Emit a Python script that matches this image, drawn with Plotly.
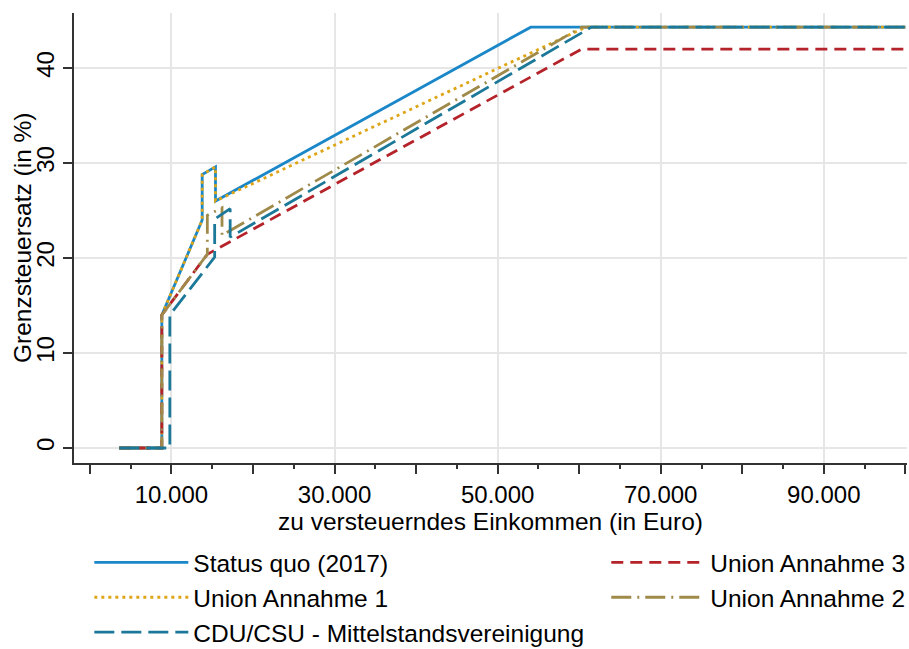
import plotly.graph_objects as go

# ---- data (vertices) ----
sq_x = [3600, 8820, 8820, 13770, 13770, 15400, 15400, 54060, 100000]
sq_y = [0, 0, 14, 24, 28.8, 29.6, 26.0, 44.31, 44.31]

u1_x = [3600, 8820, 8820, 13770, 13770, 15400, 15400, 60800, 100000]
u1_y = [0, 0, 14, 24, 28.8, 29.6, 26.0, 44.31, 44.31]

u3_x = [3600, 8820, 8820, 14400, 60300, 100000]
u3_y = [0, 0, 14, 20.4, 42, 42]

u2_x = [3600, 8820, 8820, 14400, 14400, 16200, 16200, 60300, 100000]
u2_y = [0, 0, 14, 20.4, 24.5, 25.3, 22.4, 44.31, 44.31]

mit_x = [3600, 9800, 9800, 15300, 15300, 17200, 17200, 61500, 100000]
mit_y = [0, 0, 14, 20.1, 24.1, 25.2, 22.2, 44.31, 44.31]

x_tickvals = [10000, 30000, 50000, 70000, 90000]
x_ticktext = ["10.000", "30.000", "50.000", "70.000", "90.000"]
y_tickvals = [0, 10, 20, 30, 40]

FONT = "Arial, Liberation Sans, sans-serif"
LW = 2.8

fig = go.Figure()
# (name, x, y, colour, dash, legend column, rank)
series = [
    ("Status quo (2017)", sq_x, sq_y, "#1a87c8", "solid", "legend", 1),
    ("Union Annahme 1", u1_x, u1_y, "#dea516", "3px,4px", "legend", 2),
    ("Union Annahme 3", u3_x, u3_y, "#b5232a", "12px,7px", "legend2", 1),
    ("Union Annahme 2", u2_x, u2_y, "#9f8a4a", "20px,6px,2px,6px", "legend2", 2),
    ("CDU/CSU - Mittelstandsvereinigung", mit_x, mit_y, "#1b7899", "20px,7px", "legend", 3),
]
for name, xs, ys, col, dash, leg, rank in series:
    fig.add_trace(go.Scatter(
        x=xs, y=ys, mode="lines", name=name, legend=leg, legendrank=rank,
        line=dict(color=col, width=LW, dash=dash),
    ))

# invisible helper trace for the overlay axis carrying the short ticks
fig.add_trace(go.Scatter(x=[None], y=[None], xaxis="x2", showlegend=False,
                         hoverinfo="skip"))

XR = [-1950, 100200]
LEG_Y = -0.171
legend_common = dict(
    orientation="v", yanchor="top", xanchor="left", itemwidth=94,
    font=dict(size=24.5), bgcolor="rgba(0,0,0,0)", traceorder="normal",
)
fig.update_layout(
    width=909, height=649,
    margin=dict(l=74, r=2, t=13, b=186, autoexpand=False),
    paper_bgcolor="white", plot_bgcolor="white",
    font=dict(family=FONT, size=24, color="#000000"),
    xaxis=dict(
        range=XR, tickvals=x_tickvals, ticktext=x_ticktext, automargin=False,
        ticks="outside", ticklen=9, tickwidth=1.5, tickcolor="#333333",
        showline=True, linecolor="#333333", linewidth=1.5,
        showgrid=True, gridcolor="#e6e6e6", gridwidth=1.5,
        zeroline=False,
        minor=dict(tickvals=[0, 20000, 40000, 60000, 80000, 100000],
                   ticks="outside", ticklen=9, tickwidth=1.5,
                   tickcolor="#333333", showgrid=False),
        tickfont=dict(size=24),
        title=dict(text="zu versteuerndes Einkommen (in Euro)",
                   font=dict(size=24.5), standoff=0),
    ),
    xaxis2=dict(
        range=XR, overlaying="x", anchor="y", side="bottom", automargin=False,
        tickvals=[5000, 15000, 25000, 35000, 45000, 55000, 65000, 75000, 85000, 95000],
        ticks="outside", ticklen=5, tickwidth=1.5, tickcolor="#333333",
        showticklabels=False, showgrid=False, showline=False, zeroline=False,
    ),
    yaxis=dict(
        range=[-1.58, 45.8], tickvals=y_tickvals, tickangle=-90, automargin=False,
        ticks="outside", ticklen=9, tickwidth=1.5, tickcolor="#333333",
        ticklabelstandoff=0,
        showline=True, linecolor="#333333", linewidth=1.5,
        showgrid=True, gridcolor="#e6e6e6", gridwidth=1.5,
        zeroline=False, tickfont=dict(size=24),
    ),
    annotations=[dict(
        text="Grenzsteuersatz (in %)", textangle=-90, showarrow=False,
        xref="paper", yref="paper", x=-0.0624, y=0.5,
        xanchor="center", yanchor="middle", font=dict(size=24.5),
    )],
    legend=dict(x=0.0184, y=LEG_Y, **legend_common),
    legend2=dict(x=0.639, y=LEG_Y, **legend_common),
    showlegend=True,
)

fig.write_html("out.html",
               config={"displayModeBar": False},
               post_script="document.body.style.margin='0';"
                           "document.body.style.overflow='hidden';")
